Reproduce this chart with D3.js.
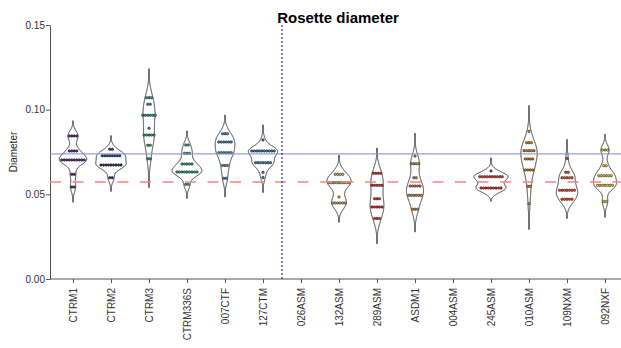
<!DOCTYPE html>
<html>
<head>
<meta charset="utf-8">
<script src="https://cdn.jsdelivr.net/npm/d3@7"></script>
<style>
  body { margin: 0; background: #fff; }
  svg { display: block; font-family: "Liberation Sans", Arial, sans-serif; }
</style>
</head>
<body>
<svg id="chart" width="621" height="348"></svg>
<script>
// categories along the x axis
const categories = ["CTRM1", "CTRM2", "CTRM3", "CTRM336S", "007CTF", "127CTM", "026ASM",
  "132ASM", "289ASM", "ASDM1", "004ASM", "245ASM", "010ASM", "109NXM", "092NXF"]

// dot fill per category
const dotColors = ["#5a2d82", "#2b3b78", "#2a9a8c", "#3aa88a", "#3a8ab0", "#3a7aa8", "#999999",
  "#c9a86c", "#d8302a", "#b8884a", "#999999", "#d63a2a", "#e07a22", "#e0522c", "#e6c62c"]

const ctrm1    = [[0.0845, 4], [0.0756, 4], [0.0703, 10], [0.0618, 2], [0.0543, 2]]
const ctrm2    = [[0.0766, 2], [0.0728, 8], [0.0673, 9], [0.0598, 2]]
const ctrm3    = [[0.1071, 3], [0.1032, 2], [0.0967, 6], [0.0890, 1], [0.0850, 5], [0.0790, 2], [0.0710, 2]]
const ctrm336s = [[0.0791, 2], [0.0742, 3], [0.0679, 5], [0.0632, 9], [0.0559, 2]]
const ctf007   = [[0.0858, 3], [0.0809, 6], [0.0746, 6], [0.0671, 3], [0.0595, 2]]
const ctm127   = [[0.0821, 1], [0.0756, 10], [0.0687, 7], [0.0630, 1], [0.0600, 1]]
const asm026   = []
const asm132   = [[0.0618, 4], [0.0569, 9], [0.0484, 1], [0.0449, 6]]
const asm289   = [[0.0624, 4], [0.0553, 5], [0.0474, 3], [0.0425, 5], [0.0358, 3]]
const asdm1    = [[0.0726, 1], [0.0681, 4], [0.0598, 2], [0.0549, 5], [0.0494, 6], [0.0412, 3]]
const asm004   = []
const asm245   = [[0.0638, 1], [0.0604, 10], [0.0537, 9]]
const asm010   = [[0.0872, 1], [0.0805, 3], [0.0758, 5], [0.0709, 4], [0.0644, 4], [0.0547, 2], [0.0445, 1]]
const nxm109   = [[0.0711, 1], [0.0630, 2], [0.0598, 5], [0.0524, 7], [0.0471, 5]]
const nxf092   = [[0.0762, 3], [0.0669, 2], [0.0610, 6], [0.0553, 7], [0.0457, 2]]

const groups = [ctrm1, ctrm2, ctrm3, ctrm336s, ctf007, ctm127, asm026,
  asm132, asm289, asdm1, asm004, asm245, asm010, nxm109, nxf092]

// kernel bandwidth per category, judged from how far each violin tail reaches
const bandwidths = [0.0030, 0.0027, 0.0057, 0.0028, 0.0037, 0.0030, 0,
  0.0038, 0.0050, 0.0045, 0, 0.0026, 0.0051, 0.0038, 0.0031]

// reference lines
const blueLine = 0.0739
const redLine = 0.0573
const yTicks = [0, 0.05, 0.10, 0.15]

const width = 621, height = 348
const marginLeft = 50, marginTop = 25, marginBottom = 69
const svg = d3.select("#chart")

const x = d3.scalePoint(categories, [50.2, 627.8]).padding(0.6)
const y = d3.scaleLinear([0, 0.15], [height - marginBottom, marginTop])
const step = x.step()

// gaussian kernel density, tails cut at 3 bandwidths
function kde(v, bw) {
  const lo = d3.min(v) - 3 * bw, hi = d3.max(v) + 3 * bw
  return d3.range(512).map(i => {
    const t = lo + (hi - lo) * i / 511
    const d = d3.mean(v, xi => Math.exp(-0.5 * ((t - xi) / bw) ** 2)) / (bw * Math.sqrt(2 * Math.PI))
    return {t, d}
  })
}

const values = groups.map(g => g.flatMap(([v, n]) => d3.range(n).map(() => v)))
const dens = values.map((v, i) => v.length > 1 ? kde(v, bandwidths[i]) : [])
const maxD = d3.max(dens, ds => d3.max(ds, p => p.d))
const halfW = 0.45 * step

// x axis
svg.append("g")
    .attr("transform", `translate(0,${y(0)})`)
    .call(d3.axisBottom(x).tickSize(4).tickSizeOuter(0))
    .call(g => g.select(".domain").attr("d", `M${marginLeft},0H627.8`).attr("stroke", "#555"))
    .call(g => g.selectAll(".tick line").attr("stroke", "#555"))
    .call(g => g.selectAll(".tick text")
        .attr("fill", "#333").attr("font-size", 10)
        .attr("text-anchor", "end")
        .attr("transform", "translate(0,9) rotate(-90)")
        .attr("x", 0).attr("y", 0).attr("dy", "0.35em"))

// y axis
svg.append("g")
    .attr("transform", `translate(${marginLeft},0)`)
    .call(d3.axisLeft(y).tickValues(yTicks).tickFormat(d3.format(".2f")).tickSize(4).tickSizeOuter(0))
    .call(g => g.select(".domain").attr("stroke", "#555"))
    .call(g => g.selectAll(".tick line").attr("stroke", "#555"))
    .call(g => g.selectAll(".tick text").attr("fill", "#333").attr("font-size", 10).attr("x", -5))

svg.append("text")
    .attr("transform", `translate(17,${(y(0) + y(0.15)) / 2}) rotate(-90)`)
    .attr("text-anchor", "middle")
    .attr("font-size", 10).attr("fill", "#222")
    .text("Diameter")

svg.append("text")
    .attr("x", 338).attr("y", 23)
    .attr("text-anchor", "middle")
    .attr("font-size", 15).attr("font-weight", "bold")
    .text("Rosette diameter")

// violins
const area = d3.area()
    .y(p => y(p.t))
const vg = svg.append("g")
dens.forEach((ds, i) => {
  if (!ds.length) return
  const cx = x(categories[i])
  vg.append("path")
      .datum(ds)
      .attr("d", area.x0(p => cx - p.d / maxD * halfW).x1(p => cx + p.d / maxD * halfW))
      .attr("fill", "none")
      .attr("stroke", "#222")
      .attr("stroke-width", 0.9)
})

// dots, centered stacks
const dotD = 2.5
const dg = svg.append("g")
groups.forEach((g, i) => {
  const cx = x(categories[i])
  g.forEach(([v, n]) => {
    dg.selectAll(null)
      .data(d3.range(n))
      .join("circle")
        .attr("cx", k => cx + (k - (n - 1) / 2) * dotD)
        .attr("cy", y(v))
        .attr("r", dotD / 2)
        .attr("fill", dotColors[i])
        .attr("stroke", "#111")
        .attr("stroke-width", 0.5)
  })
})

// reference lines
svg.append("line")
    .attr("x1", marginLeft).attr("x2", width)
    .attr("y1", y(blueLine)).attr("y2", y(blueLine))
    .attr("stroke", "#7f93cc").attr("stroke-width", 1.4).attr("opacity", 0.85)
svg.append("line")
    .attr("x1", marginLeft).attr("x2", width)
    .attr("y1", y(redLine)).attr("y2", y(redLine))
    .attr("stroke", "#f08585").attr("stroke-width", 1.4)
    .attr("stroke-dasharray", "11,11.5")

// separator between control and treated lines
const sepX = (x("127CTM") + x("026ASM")) / 2
svg.append("line")
    .attr("x1", sepX).attr("x2", sepX)
    .attr("y1", y(0.15)).attr("y2", y(0))
    .attr("stroke", "#2f3f95").attr("stroke-width", 1.3)
    .attr("stroke-dasharray", "2,2")
</script>
</body>
</html>
